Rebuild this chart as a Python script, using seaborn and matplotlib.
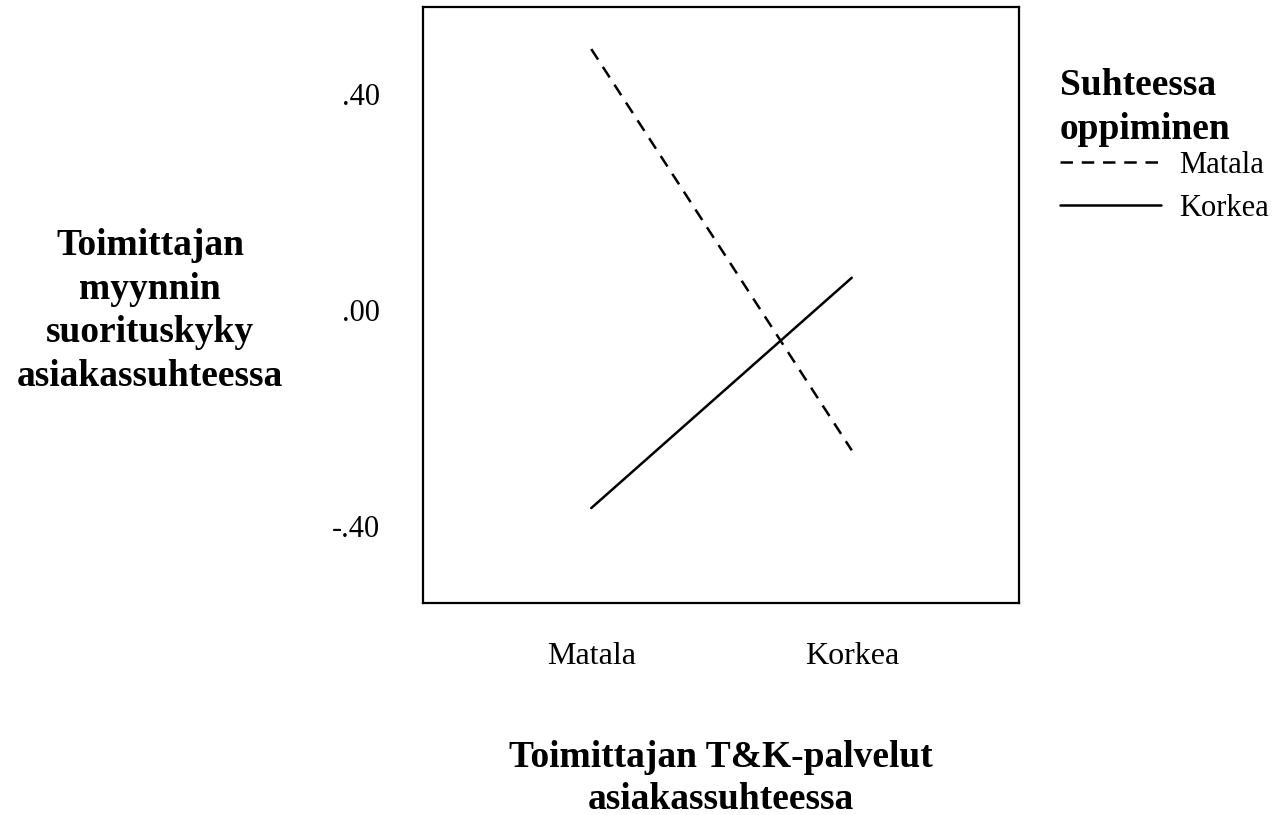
import matplotlib
matplotlib.use("Agg")
import matplotlib.pyplot as plt
import seaborn as sns
import pandas as pd

# data
tk_palvelut = ["Matala", "Korkea"]
oppiminen = ["Matala", "Korkea"]
matala_values = [0.484, -0.260]
korkea_values = [-0.367, 0.060]
ytick_values = [-0.40, 0.00, 0.40]
ytick_labels = ["-.40", ".00", ".40"]

sns.set_style("white")
plt.rcParams['font.family'] = ['Liberation Serif', 'DejaVu Serif']
plt.rcParams['mathtext.default'] = 'regular'
plt.rcParams['text.color'] = 'black'
plt.rcParams['axes.labelcolor'] = 'black'
plt.rcParams['xtick.color'] = 'black'
plt.rcParams['ytick.color'] = 'black'

df = pd.DataFrame({
    "tk": tk_palvelut * 2,
    "suoritus": matala_values + korkea_values,
    "oppiminen": [oppiminen[0]] * 2 + [oppiminen[1]] * 2,
})

fig = plt.figure(figsize=(12.87, 8.15), dpi=100)
ax = fig.add_axes([423 / 1287, 1 - 603 / 815, 596 / 1287, 596 / 815])

sns.lineplot(data=df, x="tk", y="suoritus", hue="oppiminen", style="oppiminen",
             hue_order=oppiminen, style_order=oppiminen,
             palette=["black", "black"],
             dashes={"Matala": (5, 3.5), "Korkea": ""},
             linewidth=1.8, ax=ax)

ax.set_xlim(-0.646, 1.642)
ax.set_ylim(-0.543, 0.562)
ax.set_yticks(ytick_values)
ax.set_yticklabels(ytick_labels)
ax.tick_params(axis='y', length=0, pad=31, labelsize=22)
ax.tick_params(axis='x', length=0, pad=28, labelsize=23)

for s in ax.spines.values():
    s.set_visible(True)
    s.set_color("black")
    s.set_linewidth(1.6)

ax.set_ylabel("Toimittajan\nmyynnin\nsuorituskyky\nasiakassuhteessa",
              fontsize=27, fontweight='bold', rotation=0, ha='center', va='center',
              linespacing=1.32)
ax.yaxis.set_label_coords(-0.458, 0.49)
ax.set_xlabel("Toimittajan T&K-palvelut\nasiakassuhteessa",
              fontsize=27, fontweight='bold', ha='center', va='center',
              linespacing=1.26)
ax.xaxis.set_label_coords(0.5, -0.294)

handles, labels = ax.get_legend_handles_labels()
leg = ax.legend(handles, labels, title="Suhteessa\noppiminen",
                loc="upper left", bbox_to_anchor=(1060 / 1287, 1 - 68 / 815),
                bbox_transform=fig.transFigure, frameon=False,
                fontsize=22, title_fontproperties={'weight': 'bold', 'size': 27},
                alignment='left', handlelength=3.3, handletextpad=0.6,
                labelspacing=0.45, borderpad=0, borderaxespad=0)
leg.get_title().set_linespacing(1.32)
# tighter gap between the title and the entries
leg._legend_box.sep = 3
for h in leg.get_lines():
    h.set_linewidth(1.8)

fig.savefig("out.png", dpi=100)
